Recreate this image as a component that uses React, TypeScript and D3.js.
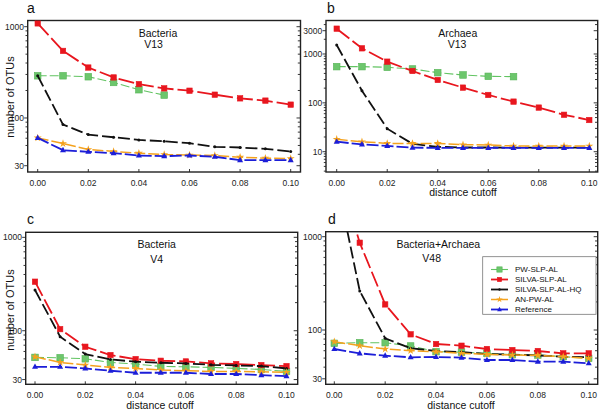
import React from "react";
import * as d3 from "d3";

const cutoffs = [0, 0.01, 0.02, 0.03, 0.04, 0.05, 0.06, 0.07, 0.08, 0.09, 0.1];
const xTickValues = [0, 0.02, 0.04, 0.06, 0.08, 0.1];
const seriesNames = ["PW-SLP-AL", "SILVA-SLP-AL", "SILVA-SLP-AL-HQ", "AN-PW-AL", "Reference"];

// Panel a: Bacteria V13
const aPW = [290, 290, 283, 245, 204, 178];
const aSILVA = [1087, 543, 357, 278, 235, 211, 199, 180, 164, 155, 140];
const aHQ = [290, 84.6, 65.8, 61.5, 57.5, 55.6, 52.9, 48.3, 47.5, 45.9, 42.9];
const aAN = [60.5, 52.5, 45.2, 43, 41.2, 39.8, 39.2, 38.8, 37.2, 36.3, 36];
const aRef = [60.5, 44.4, 42.6, 41.2, 38.8, 38.2, 38.8, 37.6, 34.5, 34.5, 34.5];

// Panel b: Archaea V13
const bPW = [551, 551, 534, 493, 415, 372, 349, 344];
const bSILVA = [3300, 1306, 697, 449, 294, 205, 145, 106, 80, 57, 44.5];
const bHQ = [1527, 177, 29.6, 14.5, 12.6, 12.2, 12.2, 12.1, 12.1, 12.1, 12.1];
const bAN = [17.9, 16, 14.8, 14.8, 14.8, 13.9, 13.7, 13.1, 13.1, 13.1, 13.1];
const bRef = [16, 14.1, 13.1, 12.1, 12, 12, 12, 12, 12, 12, 12];

// Panel c: Bacteria V4
const cPW = [51.8, 51.4, 50.1, 45.8, 44, 41.5, 41.1, 40.5, 39.5, 38.5, 36.7];
const cSILVA = [335, 104, 67.4, 54.9, 49.7, 47.7, 46.9, 44.7, 44, 42.9, 41.8];
const cHQ = [273, 86.3, 56.2, 49.3, 46.6, 45.4, 44.7, 43.2, 42.5, 41.8, 39.5];
const cAN = [52.6, 45.8, 42.9, 40.5, 39.5, 37.9, 37.3, 36.7, 36.7, 36.4, 35.8];
const cRef = [41.1, 41.1, 39.5, 37.3, 35.5, 35.5, 35.5, 34.4, 34.4, 33.5, 32.6];

// Panel d: Bacteria+Archaea V48
const dPW = [72, 73.1, 73.1, 67.4, 58.6, 58, 56.2, 54.4, 54, 51.8, 49.7];
const dSILVA = [7000, 862, 188, 89.9, 70.8, 67.9, 62.6, 61, 59.6, 56.2, 56.2];
const dHQ = [5400, 262, 81.5, 63.7, 59.6, 58, 55.3, 54.4, 53.5, 51.8, 51];
const dAN = [75, 67.9, 62.6, 60.1, 58.6, 56.2, 54.8, 54, 53.5, 51.8, 49.7];
const dRef = [62.6, 56.2, 53.1, 51, 51.4, 50.6, 47.7, 47.7, 45.8, 45.8, 44];

const FONT = "'Liberation Sans', Arial, Helvetica, sans-serif";

type Style = {
  color: string;
  width: number;
  dash: string;
  marker: "square" | "bigsquare" | "dot" | "star" | "triangle";
  size: number;
  fill: string;
  stroke: string;
};

const styles: Style[] = [
  { color: "#62c462", width: 1.1, dash: "9,3", marker: "bigsquare", size: 6.6, fill: "#6cc66c", stroke: "#55b455" },
  { color: "#e8161e", width: 1.8, dash: "16,4", marker: "square", size: 5.4, fill: "#e8161e", stroke: "#e8161e" },
  { color: "#111111", width: 1.8, dash: "12,4", marker: "dot", size: 1.5, fill: "#111111", stroke: "#111111" },
  { color: "#f4a21e", width: 1.5, dash: "11,3", marker: "star", size: 2.4, fill: "#f4a21e", stroke: "#f4a21e" },
  { color: "#1c1ed8", width: 1.8, dash: "12,3", marker: "triangle", size: 6, fill: "#1c1ed8", stroke: "#1c1ed8" },
];

type Panel = {
  id: string;
  left: number;
  right: number;
  top: number;
  bottom: number;
  x0: number;
  x10: number;
  yDomain: [number, number];
  yLabels: number[];
  titles: { text: string; x: number; y: number }[];
  letter: { x: number; y: number };
  yTitle?: { x: number; y: number };
  xTitle?: { x: number; y: number };
  data: number[][];
  legend?: boolean;
};

const panels: Panel[] = [
  {
    id: "a", left: 27.7, right: 300.5, top: 20.5, bottom: 172, x0: 37.7, x10: 290.7,
    yDomain: [25.6, 1169], yLabels: [30, 100, 1000],
    titles: [{ text: "Bacteria", x: 158, y: 36.5 }, { text: "V13", x: 153.5, y: 48.3 }],
    letter: { x: 27, y: 13 }, yTitle: { x: 10, y: 97 },
    data: [aPW, aSILVA, aHQ, aAN, aRef],
  },
  {
    id: "b", left: 326, right: 597.7, top: 20.5, bottom: 172, x0: 336.7, x10: 589.3,
    yDomain: [3.84, 4850], yLabels: [10, 100, 1000, 3000],
    titles: [{ text: "Archaea", x: 457.7, y: 36.5 }, { text: "V13", x: 457, y: 48.3 }],
    letter: { x: 327, y: 13 }, xTitle: { x: 463, y: 196 },
    data: [bPW, bSILVA, bHQ, bAN, bRef],
  },
  {
    id: "c", left: 25.7, right: 297.7, top: 232.3, bottom: 384.3, x0: 35, x10: 286.5,
    yDomain: [26.7, 1132], yLabels: [30, 100, 1000],
    titles: [{ text: "Bacteria", x: 156.7, y: 248 }, { text: "V4", x: 156.7, y: 263 }],
    letter: { x: 27, y: 224 }, yTitle: { x: 10, y: 310 }, xTitle: { x: 160, y: 409 },
    data: [cPW, cSILVA, cHQ, cAN, cRef],
  },
  {
    id: "d", left: 325.7, right: 597.7, top: 231.7, bottom: 384.3, x0: 334.3, x10: 588.7,
    yDomain: [26.2, 1131], yLabels: [30, 100, 1000],
    titles: [{ text: "Bacteria+Archaea", x: 438.3, y: 248 }, { text: "V48", x: 431.7, y: 262 }],
    letter: { x: 328, y: 224 }, xTitle: { x: 461, y: 409 },
    data: [dPW, dSILVA, dHQ, dAN, dRef], legend: true,
  },
];

function Marker({ s, x, y }: { s: Style; x: number; y: number }) {
  if (s.marker === "square" || s.marker === "bigsquare") {
    return (
      <rect x={x - s.size / 2} y={y - s.size / 2} width={s.size} height={s.size}
        fill={s.fill} stroke={s.stroke} strokeWidth={0.6} />
    );
  }
  if (s.marker === "dot") {
    return <circle cx={x} cy={y} r={s.size} fill={s.fill} />;
  }
  if (s.marker === "triangle") {
    const h = s.size * 0.9;
    const w = s.size;
    return (
      <path d={`M${x},${y - h * 0.62}L${x + w / 2},${y + h * 0.38}L${x - w / 2},${y + h * 0.38}Z`} fill={s.fill} />
    );
  }
  const star = d3.symbol().type(d3.symbolStar).size(s.size * s.size * 3.5)();
  return <path d={star || ""} transform={`translate(${x},${y})`} fill={s.fill} />;
}

function PanelView({ p }: { p: Panel }) {
  const x = d3.scaleLinear().domain([0, 0.1]).range([p.x0, p.x10]);
  const y = d3.scaleLog().domain(p.yDomain).range([p.bottom, p.top]);
  const ticks = y.ticks();
  const clipId = `clip-${p.id}`;
  const line = d3
    .line<number>()
    .x((_, i) => x(cutoffs[i]))
    .y((v) => y(v));
  const isMajor = (t: number) => p.yLabels.some((l) => Math.abs(l - t) < 1e-6) ||
    Math.abs(Math.log10(t) - Math.round(Math.log10(t))) < 1e-6;

  return (
    <g>
      <defs>
        <clipPath id={clipId}>
          <rect x={p.left} y={p.top} width={p.right - p.left} height={p.bottom - p.top} />
        </clipPath>
      </defs>
      <text x={p.letter.x} y={p.letter.y} fontSize={14} fontFamily={FONT} fill="#111">{p.id}</text>
      {ticks.map((t, i) => {
        const yy = y(t);
        const len = isMajor(t) ? 3.5 : 2.2;
        return (
          <g key={i}>
            <line x1={p.left - len} x2={p.left} y1={yy} y2={yy} stroke="#222" strokeWidth={0.9} />
            <line x1={p.right - len - 0.5} x2={p.right} y1={yy} y2={yy} stroke="#222" strokeWidth={0.9} />
          </g>
        );
      })}
      {p.yLabels.map((l) => (
        <text key={l} x={p.left - 3.8} y={y(l)} dy="0.35em" textAnchor="end" fontSize={8.5}
          fontFamily={FONT} fill="#222">{l}</text>
      ))}
      {xTickValues.map((t) => (
        <g key={t}>
          <line x1={x(t)} x2={x(t)} y1={p.bottom} y2={p.bottom - 3} stroke="#222" strokeWidth={0.9} />
          <text x={x(t)} y={p.bottom + 13.5} textAnchor="middle" fontSize={8.5} fontFamily={FONT}
            fill="#222">{t.toFixed(2)}</text>
        </g>
      ))}
      <rect x={p.left} y={p.top} width={p.right - p.left} height={p.bottom - p.top}
        fill="none" stroke="#222" strokeWidth={1.4} />
      {p.titles.map((t, i) => (
        <text key={i} x={t.x} y={t.y} textAnchor="middle" fontSize={10.5} fontFamily={FONT} fill="#111">
          {t.text}
        </text>
      ))}
      {p.yTitle && (
        <text transform={`translate(${p.yTitle.x},${p.yTitle.y}) rotate(-90)`} textAnchor="middle"
          dy="0.35em" fontSize={11} fontFamily={FONT} fill="#111">number of OTUs</text>
      )}
      {p.xTitle && (
        <text x={p.xTitle.x} y={p.xTitle.y} textAnchor="middle" fontSize={10.5} fontFamily={FONT}
          fill="#111">distance cutoff</text>
      )}
      <g clipPath={`url(#${clipId})`}>
        {p.data.map((vals, si) => {
          const s = styles[si];
          return (
            <g key={si}>
              <path d={line(vals) || ""} fill="none" stroke={s.color} strokeWidth={s.width}
                strokeDasharray={s.dash} />
              {vals.map((v, i) => (
                <Marker key={i} s={s} x={x(cutoffs[i])} y={y(v)} />
              ))}
            </g>
          );
        })}
      </g>
      {p.legend && (
        <g>
          <rect x={482.7} y={256.7} width={113.3} height={57.6} fill="#fff" stroke="#777" strokeWidth={0.8} />
          {seriesNames.map((n, i) => {
            const s = styles[i];
            const ly = 269.5 + i * 10;
            return (
              <g key={n}>
                <line x1={491} x2={508} y1={ly} y2={ly} stroke={s.color} strokeWidth={s.width} />
                <Marker s={{ ...s, size: s.marker === "dot" ? 1.2 : s.size * 0.8 }} x={499.5} y={ly} />
                <text x={515} y={ly} dy="0.35em" fontSize={8} fontFamily={FONT} fill="#111">{n}</text>
              </g>
            );
          })}
        </g>
      )}
    </g>
  );
}

export default function App() {
  return (
    <svg width={600} height={411} viewBox="0 0 600 411"
      style={{ position: "absolute", left: 0, top: 0, background: "#fff" }}>
      <rect width={600} height={411} fill="#fff" />
      {panels.map((p) => (
        <PanelView key={p.id} p={p} />
      ))}
    </svg>
  );
}
